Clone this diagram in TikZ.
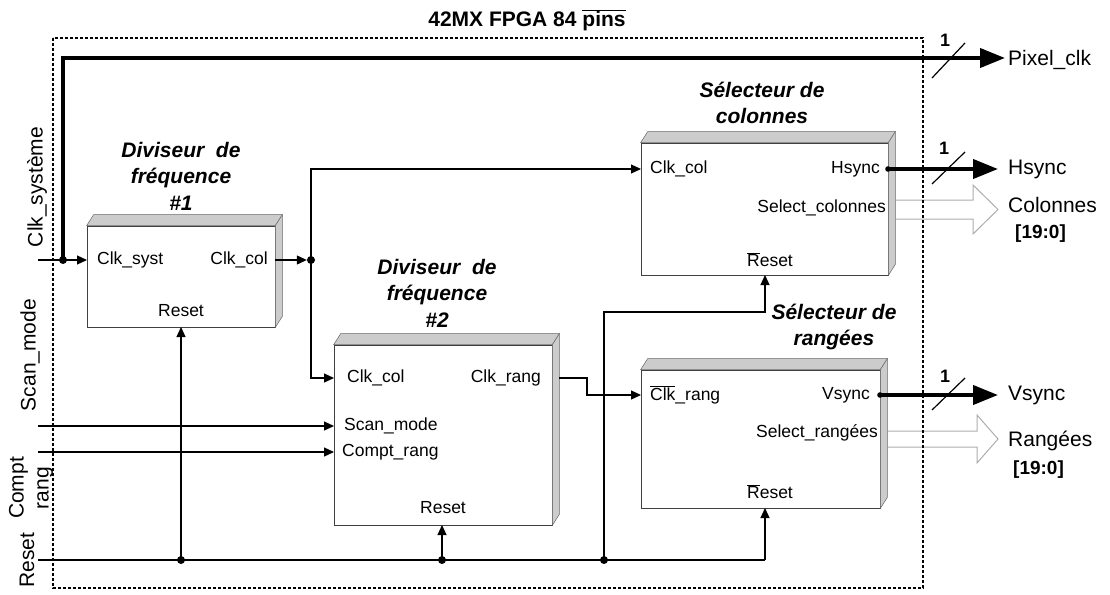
\documentclass[tikz,border=0pt]{standalone}
\usepackage{fontspec}
\setmainfont{Liberation Sans}
\usetikzlibrary{arrows.meta,calc}
\newcommand\ovl[1]{$\overline{\hbox{#1}}$}
\newcommand\blkfaces[1]{%
  \filldraw[face] (#1.north west) -- ++(7,-11) -- ($(#1.north east)+(7,-11)$) -- (#1.north east) -- cycle;
  \filldraw[face] (#1.north east) -- ++(7,-11) -- ($(#1.south east)+(7,-11)$) -- (#1.south east) -- cycle;}
\tikzset{
  blk/.style={draw=black!75, line width=0.7pt, fill=white, rectangle, inner sep=0pt},
  face/.style={fill=gray!40, draw=black!60, line width=0.5pt},
  pin/.style={font=\fontsize{17.5}{20}\selectfont, inner sep=0pt},
  ttl/.style={font=\fontsize{21}{26.5}\selectfont\bfseries\itshape, align=center, inner sep=0pt},
  io/.style={font=\fontsize{21}{24}\selectfont, inner sep=0pt},
  wire/.style={line width=1.2pt},
  arr/.style={wire, -{Triangle[length=10pt,width=9pt]}},
  bus/.style={line width=4pt, -{Triangle[length=25pt,width=19pt]}},
  dot/.style={circle, fill, inner sep=0pt, minimum size=8pt},
  frame/.style={dash pattern=on 3pt off 2pt, line width=1.5pt},
  fat/.style={draw=gray!65, line width=1pt},
}
\begin{document}
\begin{tikzpicture}[x=1pt,y=-1pt]
\useasboundingbox (0,0) rectangle (1110,594);

% title
\node[font=\fontsize{21}{24}\selectfont\bfseries, inner sep=0pt] (title) at (527,20) {42MX FPGA 84 \ovl{pins}};

% blocks
\node[blk, minimum width=188pt, minimum height=101pt] (b1) at (181,276.5) {};
\node[blk, minimum width=218pt, minimum height=180pt] (b2) at (443,435) {};
\node[blk, minimum width=247pt, minimum height=132pt] (sc) at (764.5,209) {};
\node[blk, minimum width=239pt, minimum height=138pt] (sr) at (760.5,439) {};
\blkfaces{b1}
\blkfaces{b2}
\blkfaces{sc}
\blkfaces{sr}

% block titles
\node[ttl] (t1) at (181,176) {Diviseur\ \ de\\fréquence\\\#1};
\node[ttl] (t2) at (437,293) {Diviseur\ \ de\\fréquence\\\#2};
\node[ttl] (t3) at (762,103) {Sélecteur de\\colonnes};
\node[ttl] (t4) at (834,327) {Sélecteur de\\rangées};

% pins block 1
\node[pin, anchor=west] (b1cs) at (97,260) {Clk\_syst};
\node[pin, anchor=east] (b1cc) at (268,260) {Clk\_col};
\node[pin] (b1rs) at (181,311) {Reset};
% pins block 2
\node[pin, anchor=west] (b2cc) at (347,378) {Clk\_col};
\node[pin, anchor=east] (b2cr) at (541,378) {Clk\_rang};
\node[pin, anchor=west] (b2sm) at (344,426) {Scan\_mode};
\node[pin, anchor=west] (b2cp) at (342,452) {Compt\_rang};
\node[pin] (b2rs) at (443,508) {Reset};
% pins selector colonnes
\node[pin, anchor=west] (sccc) at (650,169) {Clk\_col};
\node[pin, anchor=east] (schs) at (880,169) {Hsync};
\node[pin, anchor=east] (scsel) at (886,208) {Select\_colonnes};
\node[pin] (scrs) at (770,260) {\ovl{R}eset};
% pins selector rangees
\node[pin, anchor=west] (srcr) at (650,395) {\ovl{Clk}\_rang};
\node[pin, anchor=east] (srvs) at (870,395) {Vsync};
\node[pin, anchor=east] (srsel) at (878,433) {Select\_rangées};
\node[pin] (srrs) at (770,492) {\ovl{R}eset};

% input labels
\node[io, rotate=90] (lclk) at (37,187) {Clk\_système};
\node[io, rotate=90] (lscan) at (30,355) {Scan\_mode};
\node[io, rotate=90, align=center, font=\fontsize{21}{25}\selectfont] (lcomp) at (31,488) {Compt\\rang};
\node[io, rotate=90] (lrst) at (27,560) {Reset};

% output labels
\node[io, anchor=west] (opix) at (1008,60) {Pixel\_clk};
\node[io, anchor=west] (ohs) at (1008,169) {Hsync};
\node[io, anchor=west] (ocol) at (1008,205) {Colonnes};
\node[io, anchor=west, font=\fontsize{19}{22}\selectfont\bfseries] (ocolb) at (1015,234) {[19:0]};
\node[io, anchor=west] (ovs) at (1008,395) {Vsync};
\node[io, anchor=west] (orang) at (1008,441) {Rangées};
\node[io, anchor=west, font=\fontsize{19}{22}\selectfont\bfseries] (orangb) at (1013,470) {[19:0]};

% coordinates
\coordinate (inclk) at (38,260);
\coordinate (inscan) at (38,426);
\coordinate (incomp) at (38,452);
\coordinate (inrst) at (38,560);
\coordinate (b1in) at (87,260);
\coordinate (b1out) at (275,260);
\coordinate (b2in) at (334,378);
\coordinate (b2sin) at (334,426);
\coordinate (b2cin) at (334,452);
\coordinate (b2out) at (559,378);
\coordinate (scin) at (641,169);
\coordinate (srin) at (641,395);
\coordinate (b1bot) at (181,327);
\coordinate (b2bot) at (442,525);
\coordinate (scbot) at (765,275);
\coordinate (srbot) at (765,508);
\coordinate (pixend) at (1005,58);
\coordinate (hsst) at (888,169);
\coordinate (hsend) at (998,169);
\coordinate (vsst) at (880,395);
\coordinate (vsend) at (998,395);
\coordinate (rstend) at (765,560);

% junction dots
\node[dot] (d1) at (63,260) {};
\node[dot] (d2) at (311,260) {};
\node[dot] (r1) at (181,560) {};
\node[dot] (r2) at (442,560) {};
\node[dot] (r3) at (604,560) {};

% thick pixel clock
\draw[bus] (d1.center) -- (63,58) -- (pixend);
\draw[line width=1.2pt] (932,78) -- (965,43);
\node[font=\fontsize{18}{20}\selectfont\bfseries, inner sep=0pt] (n1) at (945,40) {1};

% clock wiring
\draw[arr] (inclk) -- (b1in);
\draw[arr] (b1out) -- (d2);
\draw[arr] (d2.center) |- (scin);
\draw[arr] (d2.center) |- (b2in);
\draw[arr] (b2out) -- (587,378) -- (587,395) -- (srin);

% other inputs
\draw[arr] (inscan) -- (b2sin);
\draw[arr] (incomp) -- (b2cin);

% reset
\draw[wire] (inrst) -- (rstend);
\draw[arr] (rstend) -- (srbot);
\draw[arr] (r1.center) -- (b1bot);
\draw[arr] (r2.center) -- (b2bot);
\draw[arr] (r3.center) -- (604,312) -- (765,312) -- (scbot);

% outputs
\fill (hsst) circle (2.8pt);
\draw[bus] (hsst) -- (hsend);
\draw[line width=1.2pt] (932,184) -- (965,152);
\node[font=\fontsize{18}{20}\selectfont\bfseries, inner sep=0pt] (n2) at (944,148) {1};
\fill (vsst) circle (2.8pt);
\draw[bus] (vsst) -- (vsend);
\draw[line width=1.2pt] (932,410) -- (965,378);
\node[font=\fontsize{18}{20}\selectfont\bfseries, inner sep=0pt] (n3) at (945,376) {1};

% hollow bus arrows
\draw[fat] (896,200) -- (973,200) -- (973,185) -- (998,209.5) -- (973,234) -- (973,219) -- (896,219);
\draw[fat] (888,431) -- (977,431) -- (977,415) -- (998,439) -- (977,463) -- (977,447) -- (888,447);

% frame
\draw[frame] (53,38) rectangle (923,588);
\end{tikzpicture}
\end{document}
